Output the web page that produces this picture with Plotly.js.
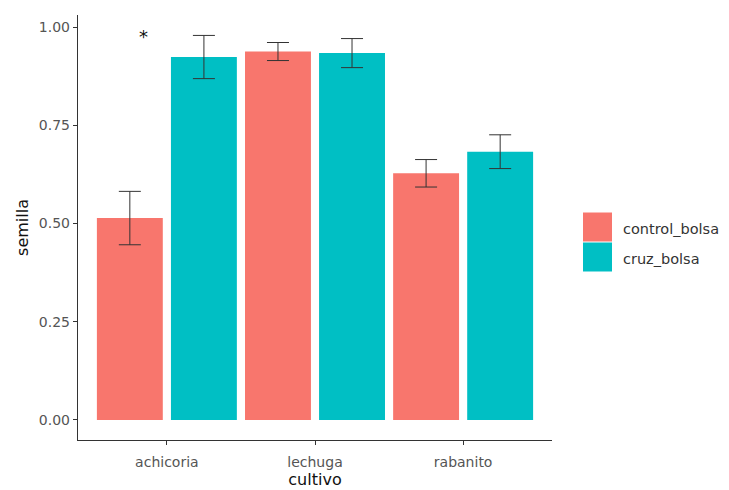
<!DOCTYPE html>
<html><head><meta charset="utf-8">
<script src="https://cdn.plot.ly/plotly-3.0.1.min.js"></script>
<style>body{margin:0;background:#fff}#chart{width:729px;height:490px}</style>
</head><body><div id="chart"></div>
<script>
const cultivos = ["achicoria", "lechuga", "rabanito"];
const controlMean = [0.514, 0.938, 0.628];
const controlErr = [0.068, 0.023, 0.035];
const cruzMean = [0.924, 0.934, 0.683];
const cruzErr = [0.055, 0.037, 0.043];
const seriesNames = ["control_bolsa", "cruz_bolsa"];
const yTicks = [0, 0.25, 0.5, 0.75, 1.0];
const yTickText = ["0.00", "0.25", "0.50", "0.75", "1.00"];
const starLabel = {x: -0.16, y: 0.977, text: "*"};

const colors = ["#F8766D", "#00BFC4"];
const errStyle = {type: "data", visible: true, color: "#333333", thickness: 1, width: 11};

const traces = [
  {type: "bar", name: seriesNames[0], x: cultivos, y: controlMean, marker: {color: colors[0]},
   error_y: Object.assign({array: controlErr}, errStyle), showlegend: false},
  {type: "bar", name: seriesNames[1], x: cultivos, y: cruzMean, marker: {color: colors[1]},
   error_y: Object.assign({array: cruzErr}, errStyle), showlegend: false}
];

const font = {family: "DejaVu Sans, Liberation Sans, Arial, sans-serif"};
const layout = {
  width: 729, height: 490,
  margin: {l: 78, r: 177, t: 15, b: 50},
  paper_bgcolor: "#fff", plot_bgcolor: "#fff",
  barmode: "group", bargap: 0, bargroupgap: 0.11,
  font: font,
  xaxis: {
    range: [-0.6, 2.6], showgrid: false, zeroline: false,
    showline: true, linecolor: "#333333", linewidth: 1.2,
    ticks: "outside", ticklen: 4, tickcolor: "#333333",
    ticklabelstandoff: 5,
    tickfont: {size: 14, color: "#555555"},
    title: {text: "cultivo", font: {size: 16, color: "#111"}, standoff: 2}
  },
  yaxis: {
    range: [-0.051, 1.031], showgrid: false, zeroline: false,
    showline: true, linecolor: "#333333", linewidth: 1.2,
    ticks: "outside", ticklen: 4, tickcolor: "#333333",
    tickvals: yTicks, ticktext: yTickText,
    tickfont: {size: 14, color: "#555555"},
    title: {text: "semilla", font: {size: 16, color: "#111"}, standoff: 6}
  },
  annotations: [
    {x: starLabel.x, y: starLabel.y, xref: "x", yref: "y", text: starLabel.text, showarrow: false,
     font: {size: 18, color: "#111"}}
  ],
  shapes: []
};
// custom legend in pixel positions converted to paper coords
const plotW = 729 - 78 - 177, plotH = 490 - 15 - 50;
function px(x){return (x - 78) / plotW;}
function py(y){return (490 - 50 - y) / plotH;}
const legendY = [227, 257];
seriesNames.forEach((n, i) => {
  layout.shapes.push({type: "rect", xref: "paper", yref: "paper",
    x0: px(583), x1: px(612), y0: py(legendY[i] - 14.5), y1: py(legendY[i] + 14.5),
    fillcolor: colors[i], line: {width: 0}});
  layout.annotations.push({xref: "paper", yref: "paper", x: px(621), y: py(legendY[i] + 2),
    xanchor: "left", yanchor: "middle", text: n, showarrow: false,
    font: {size: 14.5, color: "#333"}});
});
Plotly.newPlot("chart", traces, layout, {displayModeBar: false, staticPlot: true});
</script>
</body></html>
